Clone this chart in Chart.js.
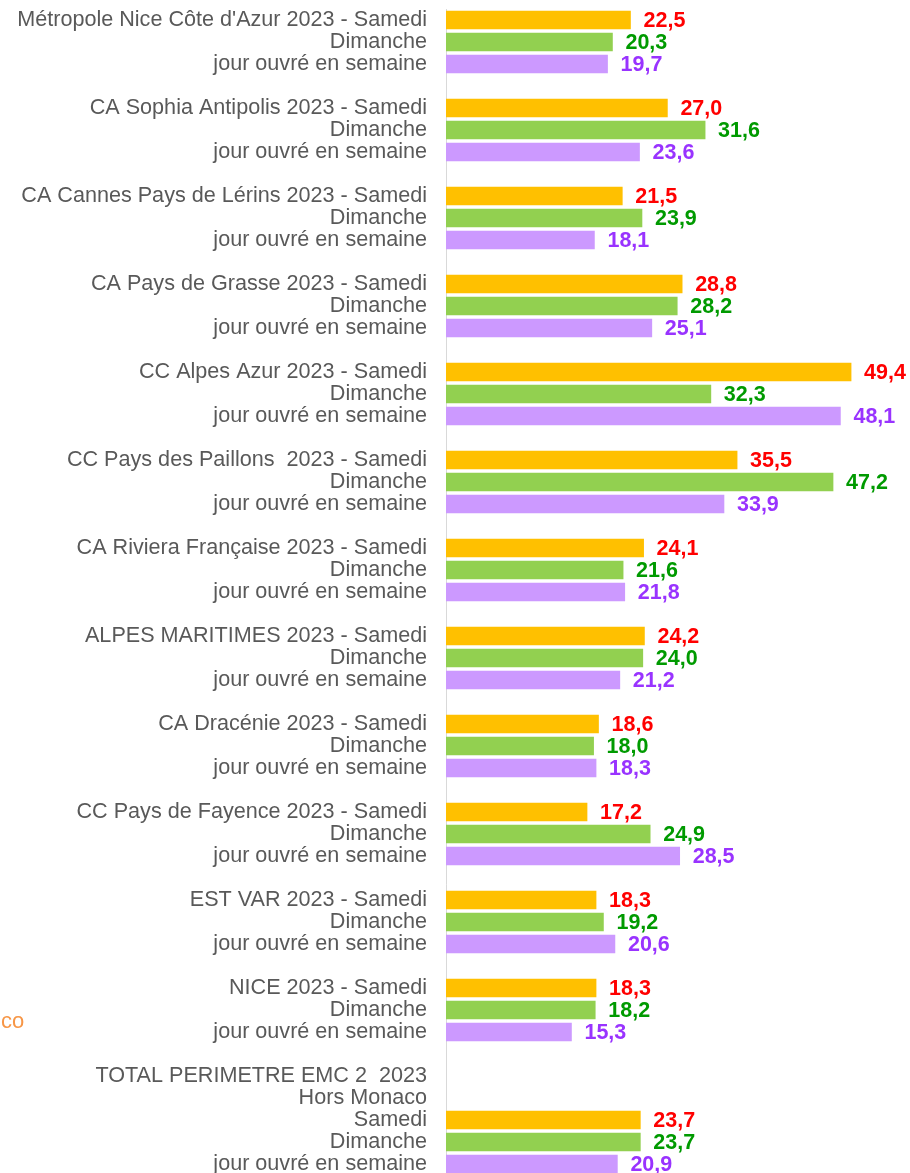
<!DOCTYPE html>
<html lang="fr">
<head>
<meta charset="utf-8">
<title>Samedi / Dimanche / jour ouvré 2023</title>
<script src="https://cdn.jsdelivr.net/npm/chart.js@4/dist/chart.umd.min.js"></script>
<style>
    html, body { margin: 0; padding: 0; background: #fff; overflow: hidden; }
    #wrap { position: relative; width: 910px; height: 1175px; }
</style>
</head>
<body>
<div id="wrap"><canvas id="myChart"></canvas></div>
<script>
// territoires, dans l'ordre d'affichage
const territoires = [
    "Métropole Nice Côte d'Azur 2023",
    'CA Sophia Antipolis 2023',
    'CA Cannes Pays de Lérins 2023',
    'CA Pays de Grasse 2023',
    'CC Alpes Azur 2023',
    'CC Pays des Paillons  2023',
    'CA Riviera Française 2023',
    'ALPES MARITIMES 2023',
    'CA Dracénie 2023',
    'CC Pays de Fayence 2023',
    'EST VAR 2023',
    'NICE 2023'
];
const totalLignes = ['TOTAL PERIMETRE EMC 2  2023', 'Hors Monaco'];

const samedi   = [22.5, 27.0, 21.5, 28.8, 49.4, 35.5, 24.1, 24.2, 18.6, 17.2, 18.3, 18.3, 23.7];
const dimanche = [20.3, 31.6, 23.9, 28.2, 32.3, 47.2, 21.6, 24.0, 18.0, 24.9, 19.2, 18.2, 23.7];
const semaine  = [19.7, 23.6, 18.1, 25.1, 48.1, 33.9, 21.8, 21.2, 18.3, 28.5, 20.6, 15.3, 20.9];

const serieNoms = ['Samedi', 'Dimanche', 'jour ouvré en semaine'];

// one category per text row: 3 bars per territory + an empty spacer row
const labels = [];
const rowsSam = [], rowsDim = [], rowsSem = [];
function pushRow(label, s, d, w) {
    labels.push(label);
    rowsSam.push(s);
    rowsDim.push(d);
    rowsSem.push(w);
}
territoires.forEach((t, i) => {
    pushRow(t + ' - Samedi', samedi[i], null, null);
    pushRow('Dimanche', null, dimanche[i], null);
    pushRow('jour ouvré en semaine', null, null, semaine[i]);
    pushRow('', null, null, null);
});
const k = territoires.length;
totalLignes.forEach(l => pushRow(l, null, null, null));
pushRow('Samedi', samedi[k], null, null);
pushRow('Dimanche', null, dimanche[k], null);
pushRow('jour ouvré en semaine', null, null, semaine[k]);

const barColors   = ['#FFC000', '#92D050', '#CC99FF'];
const valueColors = ['#FF0000', '#009A00', '#9933FF'];

Chart.defaults.font.family = "'Liberation Sans', Arial, sans-serif";

const valueLabels = {
    id: 'valueLabels',
    afterDatasetsDraw(chart) {
        const ctx = chart.ctx;
        ctx.save();
        ctx.font = "bold 21.5px 'Liberation Sans', Arial, sans-serif";
        ctx.textAlign = 'left';
        ctx.textBaseline = 'middle';
        chart.data.datasets.forEach((ds, di) => {
            const meta = chart.getDatasetMeta(di);
            ctx.fillStyle = valueColors[di];
            meta.data.forEach((bar, j) => {
                const v = ds.data[j];
                if (v === null || v === undefined) return;
                ctx.fillText(v.toFixed(1).replace('.', ','), bar.x + 13, bar.y + 1);
            });
        });
        ctx.restore();
    }
};

// tail of a neighbouring text box, cut at the left edge
const sideText = {
    id: 'sideText',
    afterDraw(chart) {
        const ctx = chart.ctx;
        ctx.save();
        ctx.font = "22px 'Liberation Sans', Arial, sans-serif";
        ctx.fillStyle = '#F79646';
        ctx.textBaseline = 'alphabetic';
        ctx.fillText('co', 1, 1028);
        ctx.restore();
    }
};

const data = {
    labels: labels,
    datasets: [
        { label: serieNoms[0], data: rowsSam, backgroundColor: barColors[0] },
        { label: serieNoms[1], data: rowsDim, backgroundColor: barColors[1] },
        { label: serieNoms[2], data: rowsSem, backgroundColor: barColors[2] }
    ]
};

const config = {
    type: 'bar',
    data: data,
    options: {
        indexAxis: 'y',
        responsive: true,
        maintainAspectRatio: false,
        animation: false,
        skipNull: true,
        barThickness: 18,
        layout: { padding: { top: 9, bottom: 0, left: 0, right: 13 } },
        scales: {
            x: {
                display: false,
                min: 0,
                max: 55
            },
            y: {
                grid: { display: false, drawTicks: false },
                border: { display: true, color: '#D9D9D9', width: 1 },
                ticks: {
                    color: '#595959',
                    font: { size: 21.6 },
                    padding: 19,
                    autoSkip: false
                },
                afterFit(scale) {
                    scale.width = 446;
                    scale.paddingTop = 0;
                    scale.paddingBottom = 0;
                }
            }
        },
        plugins: {
            legend: { display: false },
            tooltip: { enabled: false },
            title: { display: false }
        }
    },
    plugins: [valueLabels, sideText]
};

const myChart = new Chart(document.getElementById('myChart'), config);
</script>
</body>
</html>
